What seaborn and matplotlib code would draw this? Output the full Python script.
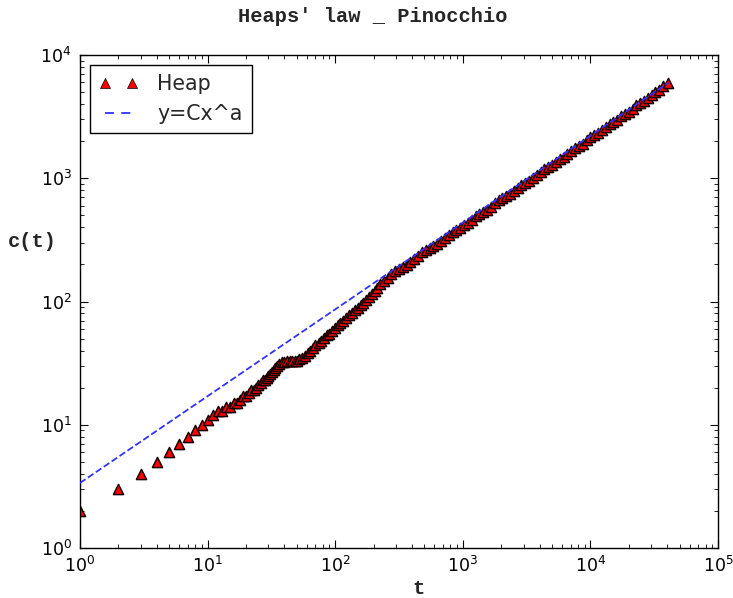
import matplotlib
matplotlib.use("Agg")
import matplotlib.pyplot as plt
import seaborn as sns
import pandas as pd
import numpy as np
from matplotlib.lines import Line2D

# ---- data ----
t_values = [1, 2, 3, 4, 5, 6, 7, 8, 9, 10, 11, 12, 13, 14, 15, 16, 17, 18, 19, 20,
            21, 22, 23, 24, 25, 26, 27, 28, 29, 30, 31, 32, 33, 34, 35,
            36, 38, 40, 42, 44, 46, 48, 50, 52, 55, 58, 61, 64, 67, 70, 74, 78, 82,
            86, 90, 95, 100, 105, 110, 116, 122, 128, 135, 142, 150, 158, 166, 175,
            184, 194, 204, 214,
            224, 240, 257, 275, 295, 316, 339, 363, 389, 417, 447, 479, 513, 550,
            589, 631, 676, 724, 776, 832, 891, 955, 1023, 1096, 1175, 1259, 1349,
            1445, 1549, 1660, 1778, 1905, 2042, 2188, 2344, 2512, 2692, 2884, 3090,
            3311, 3548, 3802, 4074, 4365, 4677, 5012, 5370, 5754, 6166, 6607, 7079,
            7586, 8128, 8710, 9333, 10000, 10715, 11482, 12303, 13183, 14125, 15136,
            16218, 17378, 18621, 19953, 21380, 22909, 24547, 26303, 28184, 30200,
            32359, 34674, 37154, 40738]
c_values = [2, 3, 4, 5, 6, 7, 8, 9, 10, 11, 12, 13, 13, 14, 14, 15, 15, 16, 17, 17,
            18, 19, 19, 20, 21, 22, 23, 23, 24, 25, 26, 27, 28, 29, 30,
            31, 32, 32, 33, 33, 33, 33, 33, 34, 35, 36, 38, 40, 42, 44, 46, 48, 51,
            53, 55, 58, 61, 64, 67, 70, 74, 77, 81, 85, 89, 93, 97, 102,
            108, 114, 121, 129,
            139, 147, 156, 166, 176, 185, 192, 199, 209, 222, 236, 251, 263, 273,
            280, 291, 309, 328, 348, 366, 380, 398, 414, 434, 461, 490, 514,
            533, 554, 588, 632, 671, 696, 722, 750, 787, 836, 877, 911,
            945, 1003, 1066, 1132, 1188, 1233, 1280, 1359, 1443, 1498, 1572, 1670,
            1753, 1819, 1910, 2028, 2154, 2236, 2320, 2464, 2617, 2748, 2852,
            2992, 3178, 3336, 3462, 3677, 3904, 4052, 4253, 4518, 4743,
            4978, 5228, 5553, 5925]

# fitted power law y = C x^a, drawn between its two end points
fit_t = [1, 40738]
fit_c = [3.37, 5950]

title_text = "Heaps' law _ Pinocchio"
xlabel_text = "t"
ylabel_text = "c(t)"
legend_labels = ["Heap", "y=Cx^a"]

df = pd.DataFrame({"t": t_values, "c": c_values})
df_fit = pd.DataFrame({"t": fit_t, "c": fit_c})

sns.set_style("white")
plt.rcParams["font.family"] = ["DejaVu Sans"]
plt.rcParams["mathtext.fontset"] = "dejavusans"

fig = plt.figure(figsize=(7.33, 5.98), dpi=100)
ax = fig.add_axes([80 / 733, 1 - 548 / 598, (718 - 80) / 733, (548 - 55) / 598])

ms = 7.3
line_col = "#3333ff"
sns.scatterplot(data=df, x="t", y="c", marker="^", s=ms ** 2,
                color="red", edgecolor="#1a0000", linewidth=1.1, ax=ax,
                legend=False, zorder=2)
sns.lineplot(data=df_fit, x="t", y="c", color=line_col, linestyle="--",
             linewidth=1.3, ax=ax, legend=False, zorder=3, dashes=(5, 4))

ax.set_xscale("log")
ax.set_yscale("log")
ax.set_xlim(1, 1e5)
ax.set_ylim(1, 1e4)
ax.set_xlabel("")
ax.set_ylabel("")

for s in ax.spines.values():
    s.set_color("black")
    s.set_linewidth(1.0)
    s.set_visible(True)

ax.tick_params(which="both", direction="in", top=True, right=True,
               bottom=True, left=True, colors="black", labelsize=12.5)
ax.tick_params(which="major", length=5.5, width=0.8, pad=6)
ax.tick_params(which="minor", length=3, width=0.6)
ax.xaxis.set_major_locator(matplotlib.ticker.LogLocator(base=10, numticks=10))
ax.yaxis.set_major_locator(matplotlib.ticker.LogLocator(base=10, numticks=10))
ax.xaxis.set_minor_locator(matplotlib.ticker.LogLocator(base=10, subs=np.arange(2, 10), numticks=20))
ax.yaxis.set_minor_locator(matplotlib.ticker.LogLocator(base=10, subs=np.arange(2, 10), numticks=20))
ax.grid(False)

# legend (old style: two marker points, square black frame)
h1 = Line2D([], [], marker="^", linestyle="none", markerfacecolor="red",
            markeredgecolor="black", markeredgewidth=0.5, markersize=ms)
h2 = Line2D([], [], color=line_col, linestyle="--", linewidth=1.3, dashes=(5, 4))
leg = ax.legend([h1, h2], legend_labels, loc="upper left", numpoints=2,
                fontsize=14.8, frameon=True, fancybox=False, framealpha=1,
                edgecolor="black", borderpad=0.42, handlelength=1.9,
                handletextpad=0.95, labelspacing=0.5, borderaxespad=0.5)
leg.get_frame().set_linewidth(1.0)

mono = ["Liberation Mono", "DejaVu Sans Mono"]
fig.text(372.5 / 733, 1 - 17 / 598, title_text, ha="center", va="center",
         fontsize=14.7, fontweight="bold", family=mono)
fig.text(418 / 733, 1 - 588 / 598, xlabel_text, ha="center", va="center",
         fontsize=14.7, fontweight="bold", family=mono)
fig.text(32 / 733, 1 - 241 / 598, ylabel_text, ha="center", va="center",
         fontsize=14.7, fontweight="bold", family=mono)

fig.savefig("out.png", dpi=100)
